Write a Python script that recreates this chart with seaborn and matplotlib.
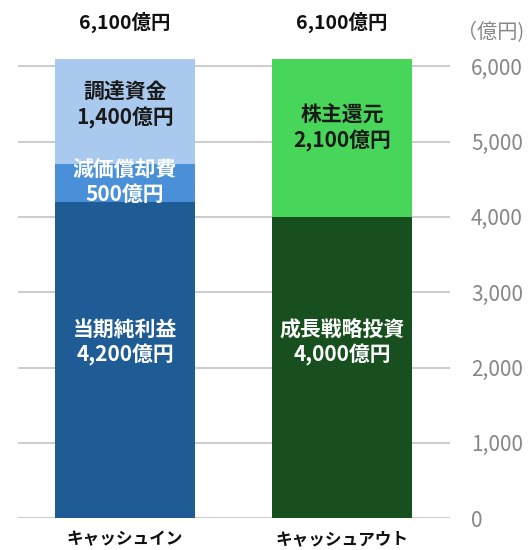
import matplotlib
matplotlib.use("Agg")
import matplotlib.pyplot as plt
import matplotlib.ticker as mticker
import seaborn as sns

categories = ["キャッシュイン", "キャッシュアウト"]

in_labels = ["当期純利益", "減価償却費", "調達資金"]
in_values = [4200, 500, 1400]
out_labels = ["成長戦略投資", "株主還元"]
out_values = [4000, 2100]

in_colors = ["#1f5c96", "#4a90d9", "#a9c9ee"]
out_colors = ["#174f1e", "#47d65a"]
in_text = ["white", "white", "#1a1a1a"]
out_text = ["white", "#1a1a1a"]

sns.set_theme(style="white")
plt.rcParams["font.family"] = ["Noto Sans CJK JP", "DejaVu Sans"]

fig = plt.figure(figsize=(5.29, 5.5), dpi=100)
ax = fig.add_axes([0.034, 0.058, 0.817, 0.835])

bar_w = 0.645


def stack(cat, labels, values, colors, tcolors, offsets):
    cum = [sum(values[:i + 1]) for i in range(len(values))]
    # draw from the top down so the lower segments sit over the upper ones
    for i in reversed(range(len(values))):
        sns.barplot(x=[cat], y=[cum[i]], order=categories, color=colors[i],
                    width=bar_w, saturation=1, linewidth=0, edgecolor="none",
                    ax=ax, zorder=3)
    for i, (lab, v) in enumerate(zip(labels, values)):
        mid = cum[i] - v / 2 + offsets[i]
        ax.text(categories.index(cat), mid, f"{lab}\n{v:,}億円", ha="center",
                va="center", color=tcolors[i], fontsize=15,
                fontweight="bold", linespacing=1.25, zorder=5)
    ax.text(categories.index(cat), cum[-1] + 480, f"{cum[-1]:,}億円",
            ha="center", va="center", fontsize=14, fontweight="bold",
            color="#111111")


stack(categories[0], in_labels, in_values, in_colors, in_text, [230, 20, 80])
stack(categories[1], out_labels, out_values, out_colors, out_text, [340, 130])

ax.set_xlim(-0.493, 1.498)
ax.set_ylim(0, 6100)
ax.set_yticks(range(0, 6001, 1000))
ax.yaxis.set_major_formatter(mticker.FuncFormatter(lambda v, p: f"{int(v):,}"))
ax.yaxis.tick_right()
ax.tick_params(axis="y", length=0, pad=15, labelsize=15, labelcolor="#878787")
ax.tick_params(axis="x", length=0, pad=9)
for lab in ax.get_xticklabels():
    lab.set_fontsize(12)
    lab.set_fontweight("bold")
    lab.set_color("#111111")
ax.grid(axis="y", color="#c4c4c4", linewidth=1.2, zorder=0)
ax.set_axisbelow(True)
for s in ax.spines.values():
    s.set_visible(False)
ax.set_xlabel("")
ax.set_ylabel("")

fig.text(457 / 529, 0.94, "（億円)", ha="left", va="center", fontsize=14.5,
         color="#878787")

fig.savefig("out.png", dpi=100)
